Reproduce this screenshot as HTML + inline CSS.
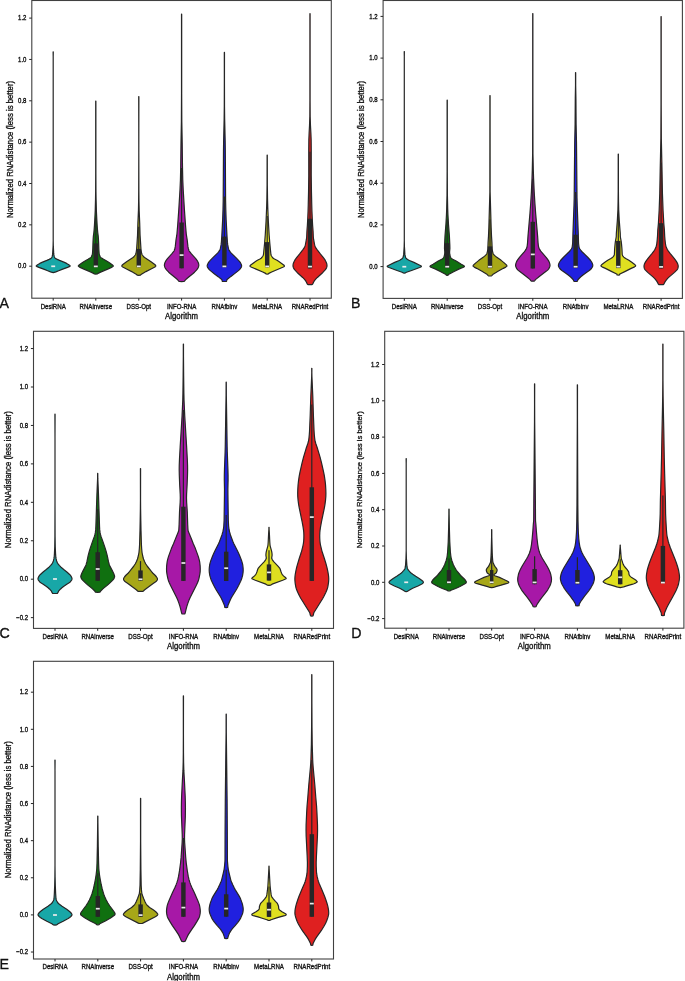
<!DOCTYPE html><html><head><meta charset="utf-8"><style>html,body{margin:0;padding:0;background:#fff;}svg{display:block;}text{font-family:"Liberation Sans",Arial,sans-serif;fill:#111;stroke:#111;stroke-width:0.3px;}</style></head><body>
<svg width="685" height="981" viewBox="0 0 685 981">
<rect width="685" height="981" fill="#fff"/>
<g><path d="M53.28 51.90 L53.20 56.90 L53.20 240.65 L53.32 246.40 L53.66 252.40 L53.86 254.65 L54.13 256.15 L54.49 257.40 L54.93 257.90 L56.31 258.90 L57.27 259.40 L59.53 260.40 L64.43 262.40 L66.59 263.40 L68.36 264.40 L69.45 265.15 L70.05 265.65 L70.20 266.00 L70.13 266.15 L69.81 266.40 L67.52 267.40 L62.03 269.40 L58.70 270.70 L55.84 271.90 L55.00 272.20 L53.20 272.60 L53.20 272.60 L51.40 272.20 L50.56 271.90 L47.70 270.70 L44.37 269.40 L38.88 267.40 L36.59 266.40 L36.27 266.15 L36.20 266.00 L36.35 265.65 L36.95 265.15 L38.04 264.40 L39.81 263.40 L41.97 262.40 L46.87 260.40 L49.13 259.40 L50.09 258.90 L51.47 257.90 L51.91 257.40 L52.27 256.15 L52.54 254.65 L52.74 252.40 L53.08 246.40 L53.20 240.65 L53.20 56.90 L53.12 51.90 Z" fill="#18a7a7" stroke="#262626" stroke-width="1.20" stroke-linejoin="round"/><rect x="51.25" y="265.45" width="3.90" height="1.70" fill="#ececec"/><path d="M95.88 101.10 L95.88 173.60 L95.96 191.35 L96.08 199.35 L96.37 210.60 L96.78 219.10 L97.13 225.10 L97.44 229.35 L97.74 232.60 L98.19 235.85 L98.40 238.60 L98.61 242.35 L98.83 249.10 L99.11 253.35 L99.28 254.35 L99.67 255.60 L100.23 256.85 L100.63 257.35 L101.60 258.10 L103.58 259.35 L107.48 261.60 L109.77 263.10 L112.84 265.35 L113.11 265.60 L113.27 265.85 L113.30 266.00 L113.15 266.35 L112.89 266.60 L112.08 267.10 L107.68 269.10 L101.16 271.85 L98.00 273.40 L97.30 274.00 L95.80 274.10 L95.80 274.10 L94.30 274.00 L93.60 273.40 L90.44 271.85 L83.92 269.10 L79.52 267.10 L78.71 266.60 L78.45 266.35 L78.30 266.00 L78.33 265.85 L78.49 265.60 L78.76 265.35 L81.83 263.10 L84.12 261.60 L88.02 259.35 L90.00 258.10 L90.97 257.35 L91.37 256.85 L91.93 255.60 L92.32 254.35 L92.49 253.35 L92.77 249.10 L92.99 242.35 L93.20 238.60 L93.41 235.85 L93.86 232.60 L94.16 229.35 L94.47 225.10 L94.82 219.10 L95.23 210.60 L95.52 199.35 L95.64 191.35 L95.72 173.60 L95.72 101.10 Z" fill="#107010" stroke="#262626" stroke-width="1.20" stroke-linejoin="round"/><line x1="95.80" y1="217.50" x2="95.80" y2="267.30" stroke="#262626" stroke-width="1.20"/><rect x="93.58" y="243.40" width="4.45" height="23.90" fill="#262626"/><rect x="93.85" y="265.55" width="3.90" height="1.70" fill="#ececec"/><path d="M138.88 96.50 L138.80 152.25 L138.88 190.50 L138.97 200.75 L139.16 210.50 L139.70 223.00 L140.07 235.25 L140.96 249.00 L141.30 251.50 L141.75 253.75 L141.95 254.25 L142.37 255.00 L143.53 256.50 L144.00 257.00 L144.61 257.50 L148.40 259.90 L151.03 261.75 L154.41 264.25 L155.03 264.75 L155.51 265.25 L155.77 265.75 L155.80 266.00 L155.73 266.25 L155.54 266.50 L154.88 267.00 L151.07 269.00 L145.90 271.60 L143.94 272.75 L141.00 274.60 L140.30 275.20 L138.80 275.30 L138.80 275.30 L137.30 275.20 L136.60 274.60 L133.66 272.75 L131.70 271.60 L126.53 269.00 L122.72 267.00 L122.06 266.50 L121.87 266.25 L121.80 266.00 L121.83 265.75 L122.09 265.25 L122.57 264.75 L123.19 264.25 L126.57 261.75 L129.20 259.90 L132.99 257.50 L133.60 257.00 L134.07 256.50 L135.23 255.00 L135.65 254.25 L135.85 253.75 L136.30 251.50 L136.64 249.00 L137.53 235.25 L137.90 223.00 L138.44 210.50 L138.63 200.75 L138.72 190.50 L138.80 152.25 L138.72 96.50 Z" fill="#a7a718" stroke="#262626" stroke-width="1.20" stroke-linejoin="round"/><line x1="138.80" y1="226.70" x2="138.80" y2="267.30" stroke="#262626" stroke-width="1.20"/><rect x="136.58" y="248.90" width="4.45" height="18.40" fill="#262626"/><rect x="136.85" y="265.55" width="3.90" height="1.70" fill="#ececec"/><path d="M181.68 14.20 L181.68 93.20 L181.81 121.45 L182.21 142.95 L182.48 166.45 L182.77 179.95 L183.22 189.95 L184.42 209.70 L185.49 224.95 L186.20 233.20 L186.46 235.45 L187.26 240.45 L187.90 246.40 L188.26 248.20 L188.96 250.45 L189.20 250.95 L189.68 251.70 L191.23 253.70 L195.73 258.70 L197.54 261.20 L198.08 262.20 L198.44 263.20 L198.70 264.20 L198.80 265.20 L198.74 265.95 L198.53 266.70 L198.10 267.70 L197.58 268.70 L197.06 269.45 L196.44 270.20 L194.50 272.20 L193.08 273.45 L187.23 278.20 L186.44 278.95 L184.80 280.70 L184.25 281.20 L183.80 281.50 L181.60 281.70 L181.60 281.70 L179.40 281.50 L178.95 281.20 L178.40 280.70 L176.76 278.95 L175.97 278.20 L170.12 273.45 L168.70 272.20 L166.76 270.20 L166.14 269.45 L165.62 268.70 L165.10 267.70 L164.67 266.70 L164.46 265.95 L164.40 265.20 L164.50 264.20 L164.76 263.20 L165.12 262.20 L165.66 261.20 L167.47 258.70 L171.97 253.70 L173.52 251.70 L174.00 250.95 L174.24 250.45 L174.94 248.20 L175.30 246.40 L175.94 240.45 L176.74 235.45 L177.00 233.20 L177.71 224.95 L178.78 209.70 L179.98 189.95 L180.43 179.95 L180.72 166.45 L180.99 142.95 L181.39 121.45 L181.52 93.20 L181.52 14.20 Z" fill="#a718a7" stroke="#262626" stroke-width="1.20" stroke-linejoin="round"/><line x1="181.60" y1="168.00" x2="181.60" y2="268.30" stroke="#262626" stroke-width="1.20"/><rect x="179.38" y="222.50" width="4.45" height="45.80" fill="#262626"/><rect x="179.65" y="254.25" width="3.90" height="1.70" fill="#ececec"/><path d="M224.48 52.40 L224.45 80.40 L224.51 106.15 L224.66 118.90 L225.17 140.65 L225.31 150.40 L225.60 200.40 L225.80 209.40 L226.14 219.65 L226.95 235.15 L227.40 242.15 L227.74 244.90 L228.42 248.40 L228.75 249.40 L229.39 250.65 L230.20 251.90 L231.02 252.90 L236.64 258.40 L238.76 260.65 L239.84 261.90 L240.54 262.90 L241.18 264.15 L241.51 265.15 L241.60 265.90 L241.49 266.65 L241.03 267.65 L239.96 269.15 L239.01 270.15 L237.82 271.15 L234.93 273.40 L230.61 276.65 L227.10 279.50 L226.79 279.90 L226.68 280.90 L226.59 281.15 L226.40 281.40 L224.40 281.50 L224.40 281.50 L222.40 281.40 L222.21 281.15 L222.12 280.90 L222.01 279.90 L221.70 279.50 L218.19 276.65 L213.87 273.40 L210.98 271.15 L209.79 270.15 L208.84 269.15 L207.77 267.65 L207.31 266.65 L207.20 265.90 L207.29 265.15 L207.62 264.15 L208.26 262.90 L208.96 261.90 L210.04 260.65 L212.16 258.40 L217.78 252.90 L218.60 251.90 L219.41 250.65 L220.05 249.40 L220.38 248.40 L221.06 244.90 L221.40 242.15 L221.85 235.15 L222.66 219.65 L223.00 209.40 L223.20 200.40 L223.49 150.40 L223.63 140.65 L224.14 118.90 L224.29 106.15 L224.35 80.40 L224.32 52.40 Z" fill="#2020df" stroke="#262626" stroke-width="1.20" stroke-linejoin="round"/><line x1="224.40" y1="196.60" x2="224.40" y2="267.30" stroke="#262626" stroke-width="1.20"/><rect x="222.18" y="236.60" width="4.45" height="30.70" fill="#262626"/><rect x="222.45" y="265.55" width="3.90" height="1.70" fill="#ececec"/><path d="M267.28 155.00 L267.34 185.25 L267.53 199.00 L267.78 207.75 L268.33 221.00 L269.17 235.25 L269.78 243.00 L270.91 254.50 L271.11 255.25 L271.62 256.25 L272.34 257.25 L273.26 258.25 L274.47 259.00 L276.98 260.25 L278.52 261.25 L283.69 265.00 L284.19 265.50 L284.34 265.75 L284.40 266.00 L284.33 266.25 L284.10 266.50 L283.76 266.75 L282.78 267.25 L271.63 272.00 L268.80 273.40 L268.66 273.50 L268.40 274.00 L267.20 274.10 L267.20 274.10 L266.00 274.00 L265.74 273.50 L265.60 273.40 L262.77 272.00 L251.62 267.25 L250.64 266.75 L250.30 266.50 L250.07 266.25 L250.00 266.00 L250.06 265.75 L250.21 265.50 L250.71 265.00 L255.88 261.25 L257.42 260.25 L259.93 259.00 L261.14 258.25 L262.06 257.25 L262.78 256.25 L263.29 255.25 L263.49 254.50 L264.62 243.00 L265.23 235.25 L266.07 221.00 L266.62 207.75 L266.87 199.00 L267.06 185.25 L267.12 155.00 Z" fill="#dfdf20" stroke="#262626" stroke-width="1.20" stroke-linejoin="round"/><line x1="267.20" y1="216.00" x2="267.20" y2="267.30" stroke="#262626" stroke-width="1.20"/><rect x="264.97" y="242.10" width="4.45" height="25.20" fill="#262626"/><rect x="265.25" y="265.55" width="3.90" height="1.70" fill="#ececec"/><path d="M310.08 13.70 L310.08 100.20 L310.16 116.20 L310.46 125.20 L310.88 132.95 L311.15 139.70 L311.25 150.45 L311.23 175.45 L311.45 191.70 L311.75 204.70 L311.95 211.45 L312.26 218.70 L312.63 225.45 L313.05 230.70 L313.33 236.95 L313.57 239.20 L314.47 244.20 L314.78 245.45 L315.37 246.95 L316.01 248.20 L316.85 249.45 L319.94 253.45 L322.99 257.20 L324.49 259.20 L325.16 260.20 L325.95 261.70 L326.58 263.20 L326.89 264.45 L327.01 265.70 L326.95 266.45 L326.66 267.45 L326.10 268.70 L325.42 269.70 L322.86 272.45 L317.36 277.45 L315.91 278.95 L314.87 280.20 L313.97 281.45 L313.54 282.20 L312.73 283.95 L312.55 284.20 L312.00 284.60 L310.00 284.70 L310.00 284.70 L308.00 284.60 L307.45 284.20 L307.27 283.95 L306.46 282.20 L306.03 281.45 L305.13 280.20 L304.09 278.95 L302.64 277.45 L297.14 272.45 L294.58 269.70 L293.90 268.70 L293.34 267.45 L293.05 266.45 L292.99 265.70 L293.11 264.45 L293.42 263.20 L294.05 261.70 L294.84 260.20 L295.51 259.20 L297.01 257.20 L300.06 253.45 L303.15 249.45 L303.99 248.20 L304.63 246.95 L305.22 245.45 L305.53 244.20 L306.43 239.20 L306.67 236.95 L306.95 230.70 L307.37 225.45 L307.74 218.70 L308.05 211.45 L308.25 204.70 L308.55 191.70 L308.77 175.45 L308.75 150.45 L308.85 139.70 L309.12 132.95 L309.54 125.20 L309.84 116.20 L309.92 100.20 L309.92 13.70 Z" fill="#df2020" stroke="#262626" stroke-width="1.20" stroke-linejoin="round"/><line x1="310.00" y1="151.70" x2="310.00" y2="268.50" stroke="#262626" stroke-width="1.20"/><rect x="307.77" y="218.70" width="4.45" height="49.80" fill="#262626"/><rect x="308.05" y="265.75" width="3.90" height="1.70" fill="#ececec"/><rect x="31.80" y="0.50" width="299.50" height="297.70" fill="none" stroke="#404040" stroke-width="1.10"/><line x1="29.20" y1="266.20" x2="31.80" y2="266.20" stroke="#262626" stroke-width="1"/><text transform="translate(26.40 268.40) scale(1 1.130)" font-size="6.00" text-anchor="end">0.0</text><line x1="29.20" y1="224.85" x2="31.80" y2="224.85" stroke="#262626" stroke-width="1"/><text transform="translate(26.40 227.05) scale(1 1.130)" font-size="6.00" text-anchor="end">0.2</text><line x1="29.20" y1="183.50" x2="31.80" y2="183.50" stroke="#262626" stroke-width="1"/><text transform="translate(26.40 185.70) scale(1 1.130)" font-size="6.00" text-anchor="end">0.4</text><line x1="29.20" y1="142.15" x2="31.80" y2="142.15" stroke="#262626" stroke-width="1"/><text transform="translate(26.40 144.35) scale(1 1.130)" font-size="6.00" text-anchor="end">0.6</text><line x1="29.20" y1="100.80" x2="31.80" y2="100.80" stroke="#262626" stroke-width="1"/><text transform="translate(26.40 103.00) scale(1 1.130)" font-size="6.00" text-anchor="end">0.8</text><line x1="29.20" y1="59.45" x2="31.80" y2="59.45" stroke="#262626" stroke-width="1"/><text transform="translate(26.40 61.65) scale(1 1.130)" font-size="6.00" text-anchor="end">1.0</text><line x1="29.20" y1="18.10" x2="31.80" y2="18.10" stroke="#262626" stroke-width="1"/><text transform="translate(26.40 20.30) scale(1 1.130)" font-size="6.00" text-anchor="end">1.2</text><line x1="53.20" y1="298.20" x2="53.20" y2="300.60" stroke="#262626" stroke-width="1"/><text transform="translate(53.20 308.50) scale(1 1.130)" font-size="6.10" text-anchor="middle">DesiRNA</text><line x1="95.80" y1="298.20" x2="95.80" y2="300.60" stroke="#262626" stroke-width="1"/><text transform="translate(95.80 308.50) scale(1 1.130)" font-size="6.10" text-anchor="middle">RNAinverse</text><line x1="138.80" y1="298.20" x2="138.80" y2="300.60" stroke="#262626" stroke-width="1"/><text transform="translate(138.80 308.50) scale(1 1.130)" font-size="6.10" text-anchor="middle">DSS-Opt</text><line x1="181.60" y1="298.20" x2="181.60" y2="300.60" stroke="#262626" stroke-width="1"/><text transform="translate(181.60 308.50) scale(1 1.130)" font-size="6.10" text-anchor="middle">INFO-RNA</text><line x1="224.40" y1="298.20" x2="224.40" y2="300.60" stroke="#262626" stroke-width="1"/><text transform="translate(224.40 308.50) scale(1 1.130)" font-size="6.10" text-anchor="middle">RNAfbinv</text><line x1="267.20" y1="298.20" x2="267.20" y2="300.60" stroke="#262626" stroke-width="1"/><text transform="translate(267.20 308.50) scale(1 1.130)" font-size="6.10" text-anchor="middle">MetaLRNA</text><line x1="310.00" y1="298.20" x2="310.00" y2="300.60" stroke="#262626" stroke-width="1"/><text transform="translate(310.00 308.50) scale(1 1.130)" font-size="6.10" text-anchor="middle">RNARedPrint</text><text transform="translate(181.55 318.70) scale(1 1.130)" font-size="7.80" text-anchor="middle">Algorithm</text><text transform="translate(13.00 149.50) scale(1.060 1) rotate(-90)" font-size="7.75" text-anchor="middle">Normalized RNAdistance (less is better)</text><text transform="translate(-0.60 307.80) scale(1 1.07)" font-size="14.20" style="stroke-width:0.3px">A</text></g>
<g><path d="M404.38 51.50 L404.30 56.50 L404.30 240.75 L404.44 246.75 L404.90 254.40 L405.17 256.00 L405.71 257.75 L406.08 258.25 L406.96 259.00 L408.46 260.00 L409.43 260.50 L413.90 262.40 L420.28 265.50 L421.14 266.00 L421.36 266.25 L421.40 266.40 L421.18 266.75 L420.81 267.00 L419.66 267.50 L412.28 270.25 L406.54 272.25 L405.90 272.50 L405.50 272.90 L404.30 273.10 L404.30 273.10 L403.10 272.90 L402.70 272.50 L402.06 272.25 L396.32 270.25 L388.94 267.50 L387.79 267.00 L387.42 266.75 L387.20 266.40 L387.24 266.25 L387.46 266.00 L388.32 265.50 L394.70 262.40 L399.17 260.50 L400.14 260.00 L401.64 259.00 L402.52 258.25 L402.89 257.75 L403.43 256.00 L403.70 254.40 L404.16 246.75 L404.30 240.75 L404.30 56.50 L404.22 51.50 Z" fill="#18a7a7" stroke="#262626" stroke-width="1.20" stroke-linejoin="round"/><rect x="402.35" y="265.85" width="3.90" height="1.70" fill="#ececec"/><path d="M447.28 100.20 L447.28 171.70 L447.40 195.20 L447.71 208.95 L447.95 214.95 L448.48 224.20 L449.38 235.70 L449.82 244.95 L449.90 248.45 L449.60 251.95 L449.66 253.20 L449.88 254.95 L450.21 256.20 L450.79 257.45 L451.20 258.10 L451.52 258.45 L452.67 259.20 L456.14 260.95 L461.30 264.20 L463.56 265.45 L464.21 265.95 L464.37 266.20 L464.40 266.40 L464.24 266.70 L463.50 267.20 L458.80 269.10 L454.14 271.45 L450.83 273.20 L448.40 274.60 L448.29 274.70 L448.20 275.20 L447.20 275.30 L447.20 275.30 L446.20 275.20 L446.11 274.70 L446.00 274.60 L443.57 273.20 L440.26 271.45 L435.60 269.10 L430.90 267.20 L430.16 266.70 L430.00 266.40 L430.03 266.20 L430.19 265.95 L430.84 265.45 L433.10 264.20 L438.26 260.95 L441.73 259.20 L442.88 258.45 L443.20 258.10 L443.61 257.45 L444.19 256.20 L444.52 254.95 L444.74 253.20 L444.80 251.95 L444.50 248.45 L444.58 244.95 L445.02 235.70 L445.92 224.20 L446.45 214.95 L446.69 208.95 L447.00 195.20 L447.12 171.70 L447.12 100.20 Z" fill="#107010" stroke="#262626" stroke-width="1.20" stroke-linejoin="round"/><line x1="447.20" y1="219.50" x2="447.20" y2="268.10" stroke="#262626" stroke-width="1.20"/><rect x="444.97" y="243.10" width="4.45" height="25.00" fill="#262626"/><rect x="445.25" y="265.85" width="3.90" height="1.70" fill="#ececec"/><path d="M490.08 95.60 L490.12 192.10 L491.15 227.60 L491.52 236.35 L491.93 242.60 L492.16 249.10 L492.47 251.10 L493.00 253.20 L493.29 253.85 L493.85 254.60 L494.85 255.60 L496.86 257.35 L501.11 260.35 L503.89 262.60 L506.37 264.85 L506.76 265.35 L506.91 265.85 L506.87 266.10 L506.72 266.35 L506.47 266.60 L505.73 267.10 L503.36 268.35 L498.03 271.35 L492.70 274.60 L492.39 274.85 L491.87 275.60 L491.50 275.90 L490.00 276.00 L490.00 276.00 L488.50 275.90 L488.13 275.60 L487.61 274.85 L487.30 274.60 L481.97 271.35 L476.64 268.35 L474.27 267.10 L473.53 266.60 L473.28 266.35 L473.13 266.10 L473.09 265.85 L473.24 265.35 L473.63 264.85 L476.11 262.60 L478.89 260.35 L483.14 257.35 L485.15 255.60 L486.15 254.60 L486.71 253.85 L487.00 253.20 L487.53 251.10 L487.84 249.10 L488.07 242.60 L488.48 236.35 L488.85 227.60 L489.88 192.10 L489.92 95.60 Z" fill="#a7a718" stroke="#262626" stroke-width="1.20" stroke-linejoin="round"/><line x1="490.00" y1="219.40" x2="490.00" y2="268.10" stroke="#262626" stroke-width="1.20"/><rect x="487.77" y="246.40" width="4.45" height="21.70" fill="#262626"/><rect x="488.05" y="265.85" width="3.90" height="1.70" fill="#ececec"/><path d="M532.88 13.60 L532.88 94.60 L532.97 154.35 L533.31 170.10 L533.58 178.35 L534.18 191.60 L534.90 203.35 L535.62 213.10 L537.63 236.35 L538.06 242.85 L538.34 245.35 L538.68 247.35 L538.95 248.10 L539.32 248.85 L540.78 251.10 L541.58 252.10 L546.12 257.35 L547.63 259.35 L548.47 260.60 L549.01 261.60 L549.59 263.10 L549.90 264.35 L550.00 265.40 L549.88 266.35 L549.40 267.60 L548.50 269.10 L547.62 270.10 L546.43 271.10 L539.30 276.50 L536.08 279.10 L535.26 279.85 L534.79 280.60 L534.30 281.10 L532.80 281.20 L532.80 281.20 L531.30 281.10 L530.81 280.60 L530.34 279.85 L529.52 279.10 L526.30 276.50 L519.17 271.10 L517.98 270.10 L517.10 269.10 L516.20 267.60 L515.72 266.35 L515.60 265.40 L515.70 264.35 L516.01 263.10 L516.59 261.60 L517.13 260.60 L517.97 259.35 L519.48 257.35 L524.02 252.10 L524.82 251.10 L526.28 248.85 L526.65 248.10 L526.92 247.35 L527.26 245.35 L527.54 242.85 L527.97 236.35 L529.98 213.10 L530.70 203.35 L531.42 191.60 L532.02 178.35 L532.29 170.10 L532.63 154.35 L532.72 94.60 L532.72 13.60 Z" fill="#a718a7" stroke="#262626" stroke-width="1.20" stroke-linejoin="round"/><line x1="532.80" y1="178.80" x2="532.80" y2="268.50" stroke="#262626" stroke-width="1.20"/><rect x="530.57" y="221.80" width="4.45" height="46.70" fill="#262626"/><rect x="530.85" y="253.55" width="3.90" height="1.70" fill="#ececec"/><path d="M575.68 72.50 L575.68 85.25 L575.92 98.75 L576.10 124.25 L576.50 142.50 L577.01 198.00 L577.22 205.75 L578.26 233.25 L578.50 242.10 L578.60 243.75 L579.05 247.25 L579.31 248.00 L579.86 249.00 L581.14 250.75 L581.78 251.50 L587.70 257.25 L589.54 259.25 L590.61 260.50 L591.47 261.75 L592.25 263.25 L592.68 264.50 L592.80 265.50 L592.69 266.25 L592.26 267.25 L591.59 268.25 L590.52 269.50 L589.30 270.50 L586.41 272.50 L583.00 275.00 L580.82 276.75 L579.53 278.00 L577.90 279.75 L577.40 281.00 L577.10 281.40 L575.60 281.50 L575.60 281.50 L574.10 281.40 L573.80 281.00 L573.30 279.75 L571.67 278.00 L570.38 276.75 L568.20 275.00 L564.79 272.50 L561.90 270.50 L560.68 269.50 L559.61 268.25 L558.94 267.25 L558.51 266.25 L558.40 265.50 L558.52 264.50 L558.95 263.25 L559.73 261.75 L560.59 260.50 L561.66 259.25 L563.50 257.25 L569.42 251.50 L570.06 250.75 L571.34 249.00 L571.89 248.00 L572.15 247.25 L572.60 243.75 L572.70 242.10 L572.94 233.25 L573.98 205.75 L574.19 198.00 L574.70 142.50 L575.10 124.25 L575.28 98.75 L575.52 85.25 L575.52 72.50 Z" fill="#2020df" stroke="#262626" stroke-width="1.20" stroke-linejoin="round"/><line x1="575.60" y1="192.00" x2="575.60" y2="268.10" stroke="#262626" stroke-width="1.20"/><rect x="573.38" y="234.70" width="4.45" height="33.40" fill="#262626"/><rect x="573.65" y="265.85" width="3.90" height="1.70" fill="#ececec"/><path d="M618.38 154.10 L618.41 191.35 L618.53 202.10 L618.69 209.85 L619.28 220.85 L620.25 233.35 L620.33 236.35 L620.53 237.85 L621.19 241.35 L621.47 243.60 L621.94 248.85 L622.23 254.60 L622.49 255.35 L622.96 256.10 L623.81 257.10 L624.60 257.85 L625.75 258.60 L628.87 260.35 L631.77 262.35 L635.02 264.85 L635.47 265.35 L635.60 265.60 L635.63 265.85 L635.55 266.10 L635.35 266.35 L634.59 266.85 L631.20 268.35 L624.80 271.60 L619.90 274.00 L619.75 274.10 L619.62 274.35 L619.64 274.85 L619.50 275.00 L618.30 275.10 L618.30 275.10 L617.10 275.00 L616.96 274.85 L616.98 274.35 L616.85 274.10 L616.70 274.00 L611.80 271.60 L605.40 268.35 L602.01 266.85 L601.25 266.35 L601.05 266.10 L600.97 265.85 L601.00 265.60 L601.13 265.35 L601.58 264.85 L604.83 262.35 L607.73 260.35 L610.85 258.60 L612.00 257.85 L612.79 257.10 L613.64 256.10 L614.11 255.35 L614.37 254.60 L614.66 248.85 L615.13 243.60 L615.41 241.35 L616.07 237.85 L616.27 236.35 L616.35 233.35 L617.32 220.85 L617.91 209.85 L618.07 202.10 L618.19 191.35 L618.22 154.10 Z" fill="#dfdf20" stroke="#262626" stroke-width="1.20" stroke-linejoin="round"/><line x1="618.30" y1="214.00" x2="618.30" y2="268.10" stroke="#262626" stroke-width="1.20"/><rect x="616.07" y="240.90" width="4.45" height="27.20" fill="#262626"/><rect x="616.35" y="265.85" width="3.90" height="1.70" fill="#ececec"/><path d="M661.18 16.60 L661.18 104.10 L661.32 138.60 L661.99 169.35 L662.43 193.35 L663.07 210.85 L663.82 223.85 L664.40 230.00 L664.68 236.10 L664.99 239.85 L665.44 243.85 L665.79 245.60 L666.11 246.85 L666.50 247.85 L667.20 249.30 L668.17 250.85 L670.06 253.35 L674.18 258.35 L676.36 261.35 L677.19 262.85 L677.84 264.35 L678.11 265.35 L678.20 266.35 L678.10 267.35 L677.80 268.50 L677.52 269.10 L676.98 269.85 L674.52 272.35 L669.23 276.85 L667.66 278.35 L666.41 279.85 L665.30 281.40 L664.89 282.10 L663.93 284.10 L663.60 284.35 L663.10 284.60 L661.10 284.70 L661.10 284.70 L659.10 284.60 L658.60 284.35 L658.27 284.10 L657.31 282.10 L656.90 281.40 L655.79 279.85 L654.54 278.35 L652.97 276.85 L647.68 272.35 L645.22 269.85 L644.68 269.10 L644.40 268.50 L644.10 267.35 L644.00 266.35 L644.09 265.35 L644.36 264.35 L645.01 262.85 L645.84 261.35 L648.02 258.35 L652.14 253.35 L654.03 250.85 L655.00 249.30 L655.70 247.85 L656.09 246.85 L656.41 245.60 L656.76 243.85 L657.21 239.85 L657.52 236.10 L657.80 230.00 L658.38 223.85 L659.13 210.85 L659.77 193.35 L660.21 169.35 L660.88 138.60 L661.02 104.10 L661.02 16.60 Z" fill="#df2020" stroke="#262626" stroke-width="1.20" stroke-linejoin="round"/><line x1="661.10" y1="162.70" x2="661.10" y2="268.50" stroke="#262626" stroke-width="1.20"/><rect x="658.88" y="223.20" width="4.45" height="45.30" fill="#262626"/><rect x="659.15" y="266.05" width="3.90" height="1.70" fill="#ececec"/><rect x="383.10" y="0.50" width="299.30" height="297.90" fill="none" stroke="#404040" stroke-width="1.10"/><line x1="380.50" y1="266.60" x2="383.10" y2="266.60" stroke="#262626" stroke-width="1"/><text transform="translate(377.70 268.80) scale(1 1.130)" font-size="6.00" text-anchor="end">0.0</text><line x1="380.50" y1="224.90" x2="383.10" y2="224.90" stroke="#262626" stroke-width="1"/><text transform="translate(377.70 227.10) scale(1 1.130)" font-size="6.00" text-anchor="end">0.2</text><line x1="380.50" y1="183.20" x2="383.10" y2="183.20" stroke="#262626" stroke-width="1"/><text transform="translate(377.70 185.40) scale(1 1.130)" font-size="6.00" text-anchor="end">0.4</text><line x1="380.50" y1="141.50" x2="383.10" y2="141.50" stroke="#262626" stroke-width="1"/><text transform="translate(377.70 143.70) scale(1 1.130)" font-size="6.00" text-anchor="end">0.6</text><line x1="380.50" y1="99.80" x2="383.10" y2="99.80" stroke="#262626" stroke-width="1"/><text transform="translate(377.70 102.00) scale(1 1.130)" font-size="6.00" text-anchor="end">0.8</text><line x1="380.50" y1="58.10" x2="383.10" y2="58.10" stroke="#262626" stroke-width="1"/><text transform="translate(377.70 60.30) scale(1 1.130)" font-size="6.00" text-anchor="end">1.0</text><line x1="380.50" y1="16.40" x2="383.10" y2="16.40" stroke="#262626" stroke-width="1"/><text transform="translate(377.70 18.60) scale(1 1.130)" font-size="6.00" text-anchor="end">1.2</text><line x1="404.30" y1="298.40" x2="404.30" y2="300.80" stroke="#262626" stroke-width="1"/><text transform="translate(404.30 308.70) scale(1 1.130)" font-size="6.10" text-anchor="middle">DesiRNA</text><line x1="447.20" y1="298.40" x2="447.20" y2="300.80" stroke="#262626" stroke-width="1"/><text transform="translate(447.20 308.70) scale(1 1.130)" font-size="6.10" text-anchor="middle">RNAinverse</text><line x1="490.00" y1="298.40" x2="490.00" y2="300.80" stroke="#262626" stroke-width="1"/><text transform="translate(490.00 308.70) scale(1 1.130)" font-size="6.10" text-anchor="middle">DSS-Opt</text><line x1="532.80" y1="298.40" x2="532.80" y2="300.80" stroke="#262626" stroke-width="1"/><text transform="translate(532.80 308.70) scale(1 1.130)" font-size="6.10" text-anchor="middle">INFO-RNA</text><line x1="575.60" y1="298.40" x2="575.60" y2="300.80" stroke="#262626" stroke-width="1"/><text transform="translate(575.60 308.70) scale(1 1.130)" font-size="6.10" text-anchor="middle">RNAfbinv</text><line x1="618.30" y1="298.40" x2="618.30" y2="300.80" stroke="#262626" stroke-width="1"/><text transform="translate(618.30 308.70) scale(1 1.130)" font-size="6.10" text-anchor="middle">MetaLRNA</text><line x1="661.10" y1="298.40" x2="661.10" y2="300.80" stroke="#262626" stroke-width="1"/><text transform="translate(661.10 308.70) scale(1 1.130)" font-size="6.10" text-anchor="middle">RNARedPrint</text><text transform="translate(532.75 318.90) scale(1 1.130)" font-size="7.80" text-anchor="middle">Algorithm</text><text transform="translate(364.10 149.50) scale(1.060 1) rotate(-90)" font-size="7.75" text-anchor="middle">Normalized RNAdistance (less is better)</text><text transform="translate(351.00 307.80) scale(1 1.07)" font-size="14.20" style="stroke-width:0.3px">B</text></g>
<g><path d="M55.08 414.20 L55.00 437.95 L55.00 501.95 L55.08 535.95 L55.24 546.45 L55.56 553.45 L55.81 557.20 L56.05 558.70 L56.62 560.95 L57.47 562.95 L58.24 564.20 L59.29 565.45 L60.77 566.95 L64.06 569.70 L66.88 571.95 L69.61 574.45 L70.46 575.45 L71.43 576.95 L71.87 577.95 L72.01 578.70 L71.96 579.20 L71.69 579.95 L71.23 580.70 L70.41 581.70 L69.85 582.20 L69.16 582.70 L66.79 584.20 L63.52 586.45 L61.62 587.95 L60.60 588.95 L58.77 590.95 L58.44 591.45 L57.87 592.70 L57.40 593.30 L55.00 593.50 L55.00 593.50 L52.60 593.30 L52.13 592.70 L51.56 591.45 L51.23 590.95 L49.40 588.95 L48.38 587.95 L46.48 586.45 L43.21 584.20 L40.84 582.70 L40.15 582.20 L39.59 581.70 L38.77 580.70 L38.31 579.95 L38.04 579.20 L37.99 578.70 L38.13 577.95 L38.57 576.95 L39.54 575.45 L40.39 574.45 L43.12 571.95 L45.94 569.70 L49.23 566.95 L50.71 565.45 L51.76 564.20 L52.53 562.95 L53.38 560.95 L53.95 558.70 L54.19 557.20 L54.44 553.45 L54.76 546.45 L54.92 535.95 L55.00 501.95 L55.00 437.95 L54.92 414.20 Z" fill="#18a7a7" stroke="#262626" stroke-width="1.20" stroke-linejoin="round"/><rect x="53.05" y="578.15" width="3.90" height="1.70" fill="#ececec"/><path d="M97.78 473.40 L97.80 478.65 L98.49 494.65 L99.52 526.15 L99.68 529.40 L100.07 532.65 L100.45 534.40 L101.11 536.65 L102.50 540.40 L104.82 547.15 L106.00 550.90 L107.26 555.65 L108.49 561.65 L109.31 564.65 L110.04 566.40 L112.80 571.65 L113.50 573.10 L114.33 575.15 L114.53 575.90 L114.61 576.65 L114.53 577.15 L114.26 577.90 L113.74 578.90 L113.41 579.40 L112.53 580.40 L109.44 583.40 L106.88 585.65 L104.03 587.90 L102.86 588.90 L100.70 591.00 L100.41 591.40 L100.16 591.90 L99.90 592.20 L97.70 592.30 L97.70 592.30 L95.50 592.20 L95.24 591.90 L94.99 591.40 L94.70 591.00 L92.54 588.90 L91.37 587.90 L88.52 585.65 L85.96 583.40 L82.87 580.40 L81.99 579.40 L81.66 578.90 L81.14 577.90 L80.87 577.15 L80.79 576.65 L80.87 575.90 L81.07 575.15 L81.90 573.10 L82.60 571.65 L85.36 566.40 L86.09 564.65 L86.91 561.65 L88.14 555.65 L89.40 550.90 L90.58 547.15 L92.90 540.40 L94.29 536.65 L94.95 534.40 L95.33 532.65 L95.72 529.40 L95.88 526.15 L96.91 494.65 L97.60 478.65 L97.62 473.40 Z" fill="#107010" stroke="#262626" stroke-width="1.20" stroke-linejoin="round"/><line x1="97.70" y1="509.30" x2="97.70" y2="580.80" stroke="#262626" stroke-width="1.20"/><rect x="95.48" y="552.20" width="4.45" height="28.60" fill="#262626"/><rect x="95.75" y="568.15" width="3.90" height="1.70" fill="#ececec"/><path d="M140.58 468.50 L140.55 499.25 L140.62 508.75 L140.82 521.00 L141.02 530.75 L141.42 544.75 L141.67 548.75 L142.04 552.50 L142.71 556.00 L143.52 559.00 L144.53 561.50 L145.66 563.75 L147.30 566.25 L149.80 569.30 L152.05 572.25 L152.93 573.25 L155.09 575.25 L156.36 576.75 L157.17 578.00 L157.40 578.60 L157.46 579.00 L157.41 579.50 L157.23 580.00 L156.80 580.70 L156.28 581.25 L155.32 582.00 L153.13 583.50 L148.40 587.10 L144.40 590.00 L143.41 591.00 L143.08 591.25 L143.00 591.30 L140.50 591.40 L140.50 591.40 L138.00 591.30 L137.92 591.25 L137.59 591.00 L136.60 590.00 L132.60 587.10 L127.87 583.50 L125.68 582.00 L124.72 581.25 L124.20 580.70 L123.77 580.00 L123.59 579.50 L123.54 579.00 L123.60 578.60 L123.83 578.00 L124.64 576.75 L125.91 575.25 L128.07 573.25 L128.95 572.25 L131.20 569.30 L133.70 566.25 L135.34 563.75 L136.47 561.50 L137.48 559.00 L138.29 556.00 L138.96 552.50 L139.33 548.75 L139.58 544.75 L139.98 530.75 L140.18 521.00 L140.38 508.75 L140.45 499.25 L140.42 468.50 Z" fill="#a7a718" stroke="#262626" stroke-width="1.20" stroke-linejoin="round"/><line x1="140.50" y1="561.10" x2="140.50" y2="580.70" stroke="#262626" stroke-width="1.20"/><rect x="138.28" y="570.40" width="4.45" height="10.30" fill="#262626"/><rect x="138.55" y="578.45" width="3.90" height="1.70" fill="#ececec"/><path d="M183.48 344.10 L183.49 356.85 L183.65 375.85 L183.88 393.60 L184.04 400.60 L184.73 415.85 L186.64 447.10 L187.33 459.60 L187.56 465.60 L187.60 470.10 L187.49 475.35 L187.13 484.60 L186.60 493.85 L186.50 498.10 L186.64 502.35 L187.27 511.85 L187.69 524.60 L187.93 529.10 L188.09 530.60 L188.45 531.85 L191.46 539.10 L193.30 543.80 L195.42 548.60 L197.80 555.10 L198.48 557.10 L199.30 560.10 L199.70 562.10 L200.15 565.85 L200.26 569.10 L200.18 571.60 L199.88 573.85 L199.04 578.10 L198.59 579.85 L198.11 581.35 L197.50 582.85 L196.22 585.60 L190.16 597.60 L188.84 600.60 L187.90 603.10 L186.86 606.35 L186.24 608.60 L185.23 612.85 L184.90 613.90 L183.40 614.00 L183.40 614.00 L181.90 613.90 L181.57 612.85 L180.56 608.60 L179.94 606.35 L178.90 603.10 L177.96 600.60 L176.64 597.60 L170.58 585.60 L169.30 582.85 L168.69 581.35 L168.21 579.85 L167.76 578.10 L166.92 573.85 L166.62 571.60 L166.54 569.10 L166.65 565.85 L167.10 562.10 L167.50 560.10 L168.32 557.10 L169.00 555.10 L171.38 548.60 L173.50 543.80 L175.34 539.10 L178.35 531.85 L178.71 530.60 L178.87 529.10 L179.11 524.60 L179.53 511.85 L180.16 502.35 L180.30 498.10 L180.20 493.85 L179.67 484.60 L179.31 475.35 L179.20 470.10 L179.24 465.60 L179.47 459.60 L180.16 447.10 L182.07 415.85 L182.76 400.60 L182.92 393.60 L183.15 375.85 L183.31 356.85 L183.32 344.10 Z" fill="#a718a7" stroke="#262626" stroke-width="1.20" stroke-linejoin="round"/><line x1="183.40" y1="410.00" x2="183.40" y2="580.90" stroke="#262626" stroke-width="1.20"/><rect x="181.18" y="506.70" width="4.45" height="74.20" fill="#262626"/><rect x="181.45" y="562.15" width="3.90" height="1.70" fill="#ececec"/><path d="M226.28 382.20 L226.34 395.70 L227.15 446.70 L227.27 451.70 L227.92 469.20 L228.07 474.95 L228.09 479.95 L227.90 489.20 L227.94 494.95 L228.30 520.20 L228.60 525.95 L229.04 529.45 L229.58 531.95 L230.46 534.95 L232.22 539.70 L233.10 541.95 L233.87 543.70 L237.42 550.70 L238.72 553.45 L240.00 556.45 L241.53 560.45 L242.34 563.20 L242.80 565.20 L243.11 567.95 L243.20 570.20 L243.07 572.45 L242.56 575.70 L241.90 577.95 L241.17 579.95 L240.64 581.20 L238.58 585.45 L236.86 588.70 L235.67 590.70 L231.93 596.70 L230.97 598.45 L229.70 601.20 L228.00 605.30 L227.82 605.95 L227.67 606.95 L227.50 607.50 L226.20 607.70 L226.20 607.70 L224.90 607.50 L224.73 606.95 L224.58 605.95 L224.40 605.30 L222.70 601.20 L221.43 598.45 L220.47 596.70 L216.73 590.70 L215.54 588.70 L213.82 585.45 L211.76 581.20 L211.23 579.95 L210.50 577.95 L209.84 575.70 L209.33 572.45 L209.20 570.20 L209.29 567.95 L209.60 565.20 L210.06 563.20 L210.87 560.45 L212.40 556.45 L213.68 553.45 L214.98 550.70 L218.53 543.70 L219.30 541.95 L220.18 539.70 L221.94 534.95 L222.82 531.95 L223.36 529.45 L223.80 525.95 L224.10 520.20 L224.46 494.95 L224.50 489.20 L224.31 479.95 L224.33 474.95 L224.48 469.20 L225.13 451.70 L225.25 446.70 L226.06 395.70 L226.12 382.20 Z" fill="#2020df" stroke="#262626" stroke-width="1.20" stroke-linejoin="round"/><line x1="226.20" y1="515.00" x2="226.20" y2="581.00" stroke="#262626" stroke-width="1.20"/><rect x="223.97" y="551.70" width="4.45" height="29.30" fill="#262626"/><rect x="224.25" y="567.35" width="3.90" height="1.70" fill="#ececec"/><path d="M269.08 527.30 L269.09 529.30 L269.33 532.55 L269.81 542.30 L270.02 545.05 L270.27 546.30 L271.60 551.05 L271.88 552.55 L272.05 554.05 L272.09 555.30 L271.71 557.80 L271.71 558.30 L271.84 558.80 L272.39 559.80 L273.68 561.55 L277.73 565.80 L279.05 567.30 L279.62 568.05 L280.15 569.05 L280.86 571.30 L281.54 573.05 L282.00 574.00 L282.37 574.55 L283.02 575.30 L284.50 576.80 L285.80 577.80 L286.20 578.30 L286.17 578.55 L285.93 578.80 L285.53 579.05 L282.71 580.30 L272.80 583.90 L272.02 584.30 L271.33 584.80 L270.50 585.20 L269.00 585.40 L269.00 585.40 L267.50 585.20 L266.67 584.80 L265.98 584.30 L265.20 583.90 L255.29 580.30 L252.47 579.05 L252.07 578.80 L251.83 578.55 L251.80 578.30 L252.20 577.80 L253.50 576.80 L254.98 575.30 L255.63 574.55 L256.00 574.00 L256.46 573.05 L257.14 571.30 L257.85 569.05 L258.38 568.05 L258.95 567.30 L260.27 565.80 L264.32 561.55 L265.61 559.80 L266.16 558.80 L266.29 558.30 L266.29 557.80 L265.91 555.30 L265.95 554.05 L266.12 552.55 L266.40 551.05 L267.73 546.30 L267.98 545.05 L268.19 542.30 L268.67 532.55 L268.91 529.30 L268.92 527.30 Z" fill="#dfdf20" stroke="#262626" stroke-width="1.20" stroke-linejoin="round"/><line x1="269.00" y1="550.20" x2="269.00" y2="580.60" stroke="#262626" stroke-width="1.20"/><rect x="266.77" y="564.40" width="4.45" height="16.20" fill="#262626"/><rect x="267.05" y="571.55" width="3.90" height="1.70" fill="#ececec"/><path d="M311.88 368.30 L311.85 372.80 L311.92 376.30 L312.78 396.05 L313.42 416.05 L314.05 431.05 L314.29 434.55 L314.58 437.55 L314.95 440.30 L315.33 442.05 L315.94 444.05 L317.58 448.80 L320.13 457.30 L321.59 463.05 L323.62 472.05 L324.40 476.05 L325.12 481.05 L325.54 485.05 L325.81 489.55 L325.91 493.30 L325.84 496.55 L325.57 499.80 L324.99 504.30 L324.32 508.05 L321.45 521.80 L320.51 527.05 L320.04 530.30 L319.82 532.80 L319.72 535.55 L319.76 538.30 L319.91 541.05 L320.15 543.05 L320.50 545.05 L321.82 550.55 L322.47 552.80 L324.29 558.30 L325.82 563.30 L326.55 565.80 L327.12 568.05 L327.86 571.55 L328.34 574.30 L328.64 576.80 L328.74 579.05 L328.67 580.80 L328.50 582.55 L328.16 584.80 L327.70 587.30 L327.04 589.55 L325.90 592.30 L323.95 596.30 L322.71 598.55 L313.97 612.55 L313.67 613.30 L313.31 615.05 L313.00 615.80 L311.80 616.10 L311.80 616.10 L310.60 615.80 L310.29 615.05 L309.93 613.30 L309.63 612.55 L300.89 598.55 L299.65 596.30 L297.70 592.30 L296.56 589.55 L295.90 587.30 L295.44 584.80 L295.10 582.55 L294.93 580.80 L294.86 579.05 L294.96 576.80 L295.26 574.30 L295.74 571.55 L296.48 568.05 L297.05 565.80 L297.78 563.30 L299.31 558.30 L301.13 552.80 L301.78 550.55 L303.10 545.05 L303.45 543.05 L303.69 541.05 L303.84 538.30 L303.88 535.55 L303.78 532.80 L303.56 530.30 L303.09 527.05 L302.15 521.80 L299.28 508.05 L298.61 504.30 L298.03 499.80 L297.76 496.55 L297.69 493.30 L297.79 489.55 L298.06 485.05 L298.48 481.05 L299.20 476.05 L299.98 472.05 L302.01 463.05 L303.47 457.30 L306.02 448.80 L307.66 444.05 L308.27 442.05 L308.65 440.30 L309.02 437.55 L309.31 434.55 L309.55 431.05 L310.18 416.05 L310.82 396.05 L311.68 376.30 L311.75 372.80 L311.72 368.30 Z" fill="#df2020" stroke="#262626" stroke-width="1.20" stroke-linejoin="round"/><line x1="311.80" y1="404.60" x2="311.80" y2="580.90" stroke="#262626" stroke-width="1.20"/><rect x="309.57" y="487.30" width="4.45" height="93.60" fill="#262626"/><rect x="309.85" y="516.25" width="3.90" height="1.70" fill="#ececec"/><rect x="33.50" y="331.30" width="300.00" height="297.10" fill="none" stroke="#404040" stroke-width="1.10"/><line x1="30.90" y1="617.64" x2="33.50" y2="617.64" stroke="#262626" stroke-width="1"/><text transform="translate(28.10 619.84) scale(1 1.130)" font-size="6.00" text-anchor="end">−0.2</text><line x1="30.90" y1="579.20" x2="33.50" y2="579.20" stroke="#262626" stroke-width="1"/><text transform="translate(28.10 581.40) scale(1 1.130)" font-size="6.00" text-anchor="end">0.0</text><line x1="30.90" y1="540.76" x2="33.50" y2="540.76" stroke="#262626" stroke-width="1"/><text transform="translate(28.10 542.96) scale(1 1.130)" font-size="6.00" text-anchor="end">0.2</text><line x1="30.90" y1="502.32" x2="33.50" y2="502.32" stroke="#262626" stroke-width="1"/><text transform="translate(28.10 504.52) scale(1 1.130)" font-size="6.00" text-anchor="end">0.4</text><line x1="30.90" y1="463.88" x2="33.50" y2="463.88" stroke="#262626" stroke-width="1"/><text transform="translate(28.10 466.08) scale(1 1.130)" font-size="6.00" text-anchor="end">0.6</text><line x1="30.90" y1="425.44" x2="33.50" y2="425.44" stroke="#262626" stroke-width="1"/><text transform="translate(28.10 427.64) scale(1 1.130)" font-size="6.00" text-anchor="end">0.8</text><line x1="30.90" y1="387.00" x2="33.50" y2="387.00" stroke="#262626" stroke-width="1"/><text transform="translate(28.10 389.20) scale(1 1.130)" font-size="6.00" text-anchor="end">1.0</text><line x1="30.90" y1="348.56" x2="33.50" y2="348.56" stroke="#262626" stroke-width="1"/><text transform="translate(28.10 350.76) scale(1 1.130)" font-size="6.00" text-anchor="end">1.2</text><line x1="55.00" y1="628.40" x2="55.00" y2="630.80" stroke="#262626" stroke-width="1"/><text transform="translate(55.00 638.70) scale(1 1.130)" font-size="6.10" text-anchor="middle">DesiRNA</text><line x1="97.70" y1="628.40" x2="97.70" y2="630.80" stroke="#262626" stroke-width="1"/><text transform="translate(97.70 638.70) scale(1 1.130)" font-size="6.10" text-anchor="middle">RNAinverse</text><line x1="140.50" y1="628.40" x2="140.50" y2="630.80" stroke="#262626" stroke-width="1"/><text transform="translate(140.50 638.70) scale(1 1.130)" font-size="6.10" text-anchor="middle">DSS-Opt</text><line x1="183.40" y1="628.40" x2="183.40" y2="630.80" stroke="#262626" stroke-width="1"/><text transform="translate(183.40 638.70) scale(1 1.130)" font-size="6.10" text-anchor="middle">INFO-RNA</text><line x1="226.20" y1="628.40" x2="226.20" y2="630.80" stroke="#262626" stroke-width="1"/><text transform="translate(226.20 638.70) scale(1 1.130)" font-size="6.10" text-anchor="middle">RNAfbinv</text><line x1="269.00" y1="628.40" x2="269.00" y2="630.80" stroke="#262626" stroke-width="1"/><text transform="translate(269.00 638.70) scale(1 1.130)" font-size="6.10" text-anchor="middle">MetaLRNA</text><line x1="311.80" y1="628.40" x2="311.80" y2="630.80" stroke="#262626" stroke-width="1"/><text transform="translate(311.80 638.70) scale(1 1.130)" font-size="6.10" text-anchor="middle">RNARedPrint</text><text transform="translate(183.50 648.90) scale(1 1.130)" font-size="7.80" text-anchor="middle">Algorithm</text><text transform="translate(11.00 479.60) scale(1.060 1) rotate(-90)" font-size="7.75" text-anchor="middle">Normalized RNAdistance (less is better)</text><text transform="translate(-0.60 638.00) scale(1 1.07)" font-size="14.20" style="stroke-width:0.3px">C</text></g>
<g><path d="M406.28 458.70 L406.20 463.95 L406.20 550.70 L406.41 558.20 L406.80 564.50 L407.01 566.45 L407.36 568.45 L407.68 569.20 L408.58 570.45 L410.20 572.20 L411.38 573.20 L412.77 574.20 L415.69 576.20 L419.24 578.45 L421.66 580.20 L422.57 580.95 L423.03 581.45 L423.32 581.95 L423.40 582.30 L423.30 582.70 L422.88 583.20 L422.22 583.70 L421.37 584.20 L417.99 585.95 L413.81 587.70 L412.20 588.45 L409.13 590.20 L407.93 590.95 L407.40 591.40 L406.20 591.60 L406.20 591.60 L405.00 591.40 L404.47 590.95 L403.27 590.20 L400.20 588.45 L398.59 587.70 L394.41 585.95 L391.03 584.20 L390.18 583.70 L389.52 583.20 L389.10 582.70 L389.00 582.30 L389.08 581.95 L389.37 581.45 L389.83 580.95 L390.74 580.20 L393.16 578.45 L396.71 576.20 L399.63 574.20 L401.02 573.20 L402.20 572.20 L403.82 570.45 L404.72 569.20 L405.04 568.45 L405.39 566.45 L405.60 564.50 L405.99 558.20 L406.20 550.70 L406.20 463.95 L406.12 458.70 Z" fill="#18a7a7" stroke="#262626" stroke-width="1.20" stroke-linejoin="round"/><rect x="404.25" y="581.45" width="3.90" height="1.70" fill="#ececec"/><path d="M449.08 509.00 L449.11 514.50 L449.33 527.00 L449.78 542.00 L450.35 551.75 L450.80 555.75 L451.25 558.50 L451.98 561.00 L453.27 564.50 L454.51 567.00 L456.12 569.75 L457.73 572.00 L460.27 575.00 L461.42 576.25 L464.08 578.75 L465.41 580.25 L466.07 581.25 L466.26 581.75 L466.30 582.25 L466.11 582.75 L465.90 583.00 L465.30 583.50 L464.07 584.25 L459.98 586.50 L455.67 588.50 L451.00 590.30 L450.20 590.80 L449.00 591.00 L449.00 591.00 L447.80 590.80 L447.00 590.30 L442.33 588.50 L438.02 586.50 L433.93 584.25 L432.70 583.50 L432.10 583.00 L431.89 582.75 L431.70 582.25 L431.74 581.75 L431.93 581.25 L432.59 580.25 L433.92 578.75 L436.58 576.25 L437.73 575.00 L440.27 572.00 L441.88 569.75 L443.49 567.00 L444.73 564.50 L446.02 561.00 L446.75 558.50 L447.20 555.75 L447.65 551.75 L448.22 542.00 L448.67 527.00 L448.89 514.50 L448.92 509.00 Z" fill="#107010" stroke="#262626" stroke-width="1.20" stroke-linejoin="round"/><line x1="449.00" y1="558.40" x2="449.00" y2="583.50" stroke="#262626" stroke-width="1.20"/><rect x="446.77" y="570.00" width="4.45" height="13.50" fill="#262626"/><rect x="447.05" y="581.45" width="3.90" height="1.70" fill="#ececec"/><path d="M491.78 529.70 L491.81 537.20 L492.20 552.45 L492.42 556.95 L492.75 561.20 L492.90 561.95 L493.23 562.95 L494.57 565.95 L495.07 566.70 L496.64 568.70 L497.00 569.40 L497.11 569.95 L497.09 570.45 L496.98 570.95 L496.29 572.70 L495.75 573.20 L494.35 574.20 L493.93 574.70 L493.90 575.00 L494.01 575.20 L494.32 575.45 L494.79 575.70 L499.40 577.40 L503.44 579.20 L507.12 580.95 L508.37 581.70 L508.63 581.95 L508.80 582.30 L508.78 582.45 L508.57 582.70 L508.19 582.95 L507.64 583.20 L506.21 583.70 L501.11 585.20 L495.70 586.60 L493.38 587.45 L491.70 587.70 L491.70 587.70 L490.02 587.45 L487.70 586.60 L482.29 585.20 L477.19 583.70 L475.76 583.20 L475.21 582.95 L474.83 582.70 L474.62 582.45 L474.60 582.30 L474.77 581.95 L475.03 581.70 L476.28 580.95 L479.96 579.20 L484.00 577.40 L488.61 575.70 L489.08 575.45 L489.39 575.20 L489.50 575.00 L489.47 574.70 L489.05 574.20 L487.65 573.20 L487.11 572.70 L486.42 570.95 L486.31 570.45 L486.29 569.95 L486.40 569.40 L486.76 568.70 L488.33 566.70 L488.83 565.95 L490.17 562.95 L490.50 561.95 L490.65 561.20 L490.98 556.95 L491.20 552.45 L491.59 537.20 L491.62 529.70 Z" fill="#a7a718" stroke="#262626" stroke-width="1.20" stroke-linejoin="round"/><line x1="491.70" y1="556.00" x2="491.70" y2="583.50" stroke="#262626" stroke-width="1.20"/><rect x="490.00" y="570.00" width="3.40" height="13.50" fill="#262626"/><rect x="489.75" y="581.45" width="3.90" height="1.70" fill="#ececec"/><path d="M534.68 383.80 L534.64 404.55 L534.69 421.30 L535.40 503.05 L535.49 518.80 L535.55 521.05 L535.90 524.55 L536.31 530.55 L537.05 538.80 L537.65 544.05 L538.36 548.30 L539.23 551.55 L539.64 552.80 L540.14 554.05 L541.58 557.05 L542.58 558.80 L546.70 565.55 L548.23 568.30 L549.21 570.30 L550.24 572.80 L550.79 574.55 L551.33 577.30 L551.46 578.55 L551.50 579.55 L551.44 580.55 L551.24 581.80 L550.40 584.80 L549.59 586.55 L548.00 589.30 L546.83 591.05 L545.10 593.40 L541.74 597.55 L539.39 600.80 L537.92 603.05 L536.60 605.30 L536.10 606.60 L534.60 606.80 L534.60 606.80 L533.10 606.60 L532.60 605.30 L531.28 603.05 L529.81 600.80 L527.46 597.55 L524.10 593.40 L522.37 591.05 L521.20 589.30 L519.61 586.55 L518.80 584.80 L517.96 581.80 L517.76 580.55 L517.70 579.55 L517.74 578.55 L517.87 577.30 L518.41 574.55 L518.96 572.80 L519.99 570.30 L520.97 568.30 L522.50 565.55 L526.62 558.80 L527.62 557.05 L529.06 554.05 L529.56 552.80 L529.97 551.55 L530.84 548.30 L531.55 544.05 L532.15 538.80 L532.89 530.55 L533.30 524.55 L533.65 521.05 L533.71 518.80 L533.80 503.05 L534.51 421.30 L534.56 404.55 L534.52 383.80 Z" fill="#a718a7" stroke="#262626" stroke-width="1.20" stroke-linejoin="round"/><line x1="534.60" y1="556.20" x2="534.60" y2="584.20" stroke="#262626" stroke-width="1.20"/><rect x="532.38" y="569.10" width="4.45" height="15.10" fill="#262626"/><rect x="532.65" y="581.55" width="3.90" height="1.70" fill="#ececec"/><path d="M577.48 384.80 L577.48 418.55 L577.83 505.05 L578.01 521.05 L578.17 528.05 L578.34 532.30 L578.76 538.55 L579.14 542.30 L579.77 546.05 L580.35 548.30 L581.28 551.05 L582.16 553.05 L583.45 555.55 L590.29 566.80 L591.14 568.30 L592.42 570.80 L593.18 572.55 L593.88 574.80 L594.27 576.55 L594.40 578.05 L594.35 579.05 L594.19 580.05 L593.47 582.80 L592.70 584.55 L591.12 587.30 L590.31 588.55 L589.07 590.30 L587.56 592.30 L584.54 596.05 L581.72 600.05 L580.62 601.80 L579.33 604.05 L579.21 604.55 L579.14 605.30 L579.00 605.70 L577.40 605.90 L577.40 605.90 L575.80 605.70 L575.66 605.30 L575.59 604.55 L575.47 604.05 L574.18 601.80 L573.08 600.05 L570.26 596.05 L567.24 592.30 L565.73 590.30 L564.49 588.55 L563.68 587.30 L562.10 584.55 L561.33 582.80 L560.61 580.05 L560.45 579.05 L560.40 578.05 L560.53 576.55 L560.92 574.80 L561.62 572.55 L562.38 570.80 L563.66 568.30 L564.51 566.80 L571.35 555.55 L572.64 553.05 L573.52 551.05 L574.45 548.30 L575.03 546.05 L575.66 542.30 L576.04 538.55 L576.46 532.30 L576.63 528.05 L576.79 521.05 L576.97 505.05 L577.32 418.55 L577.32 384.80 Z" fill="#2020df" stroke="#262626" stroke-width="1.20" stroke-linejoin="round"/><line x1="577.40" y1="557.20" x2="577.40" y2="584.20" stroke="#262626" stroke-width="1.20"/><rect x="575.17" y="570.00" width="4.45" height="14.20" fill="#262626"/><rect x="575.45" y="581.85" width="3.90" height="1.70" fill="#ececec"/><path d="M620.28 545.10 L620.30 546.85 L621.21 558.10 L621.39 558.85 L622.00 560.60 L622.67 562.85 L623.24 564.35 L623.94 565.60 L624.90 567.00 L626.99 569.35 L628.34 571.35 L628.70 572.10 L628.84 572.60 L628.96 574.10 L629.07 574.60 L629.29 575.10 L629.62 575.60 L630.54 576.60 L631.67 577.60 L634.92 579.60 L636.28 580.60 L637.04 581.35 L637.17 581.60 L637.20 581.85 L637.08 582.10 L636.80 582.35 L635.92 582.85 L633.90 583.70 L632.78 584.10 L627.50 585.60 L623.64 586.85 L622.30 587.20 L620.20 587.60 L620.20 587.60 L618.10 587.20 L616.76 586.85 L612.90 585.60 L607.62 584.10 L606.50 583.70 L604.48 582.85 L603.60 582.35 L603.32 582.10 L603.20 581.85 L603.23 581.60 L603.36 581.35 L604.12 580.60 L605.48 579.60 L608.73 577.60 L609.86 576.60 L610.78 575.60 L611.11 575.10 L611.33 574.60 L611.44 574.10 L611.56 572.60 L611.70 572.10 L612.06 571.35 L613.41 569.35 L615.50 567.00 L616.46 565.60 L617.16 564.35 L617.73 562.85 L618.40 560.60 L619.01 558.85 L619.19 558.10 L620.10 546.85 L620.12 545.10 Z" fill="#dfdf20" stroke="#262626" stroke-width="1.20" stroke-linejoin="round"/><line x1="620.20" y1="559.30" x2="620.20" y2="584.30" stroke="#262626" stroke-width="1.20"/><rect x="617.98" y="570.20" width="4.45" height="14.10" fill="#262626"/><rect x="618.25" y="576.45" width="3.90" height="1.70" fill="#ececec"/><path d="M662.98 344.00 L662.99 380.75 L663.11 396.00 L663.27 406.25 L663.80 431.25 L664.26 457.75 L664.65 473.75 L665.41 500.25 L665.60 513.75 L665.82 519.25 L666.40 529.50 L666.77 534.00 L666.99 535.75 L667.43 538.00 L668.28 541.50 L669.04 544.00 L670.26 547.50 L675.01 559.25 L676.40 563.00 L677.46 566.25 L678.33 569.25 L678.81 571.50 L679.33 574.75 L679.50 577.25 L679.45 578.50 L679.28 580.00 L678.52 584.00 L677.82 586.25 L676.52 589.50 L675.83 591.00 L674.79 593.00 L672.77 596.75 L668.15 605.00 L666.61 608.00 L664.61 612.75 L664.47 613.50 L664.38 614.75 L664.20 615.50 L662.90 615.70 L662.90 615.70 L661.60 615.50 L661.42 614.75 L661.33 613.50 L661.19 612.75 L659.19 608.00 L657.65 605.00 L653.03 596.75 L651.01 593.00 L649.97 591.00 L649.28 589.50 L647.98 586.25 L647.28 584.00 L646.52 580.00 L646.35 578.50 L646.30 577.25 L646.47 574.75 L646.99 571.50 L647.47 569.25 L648.34 566.25 L649.40 563.00 L650.79 559.25 L655.54 547.50 L656.76 544.00 L657.52 541.50 L658.37 538.00 L658.81 535.75 L659.03 534.00 L659.40 529.50 L659.98 519.25 L660.20 513.75 L660.39 500.25 L661.15 473.75 L661.54 457.75 L662.00 431.25 L662.53 406.25 L662.69 396.00 L662.81 380.75 L662.82 344.00 Z" fill="#df2020" stroke="#262626" stroke-width="1.20" stroke-linejoin="round"/><line x1="662.90" y1="495.40" x2="662.90" y2="583.20" stroke="#262626" stroke-width="1.20"/><rect x="660.67" y="545.90" width="4.45" height="37.30" fill="#262626"/><rect x="660.95" y="581.75" width="3.90" height="1.70" fill="#ececec"/><rect x="384.70" y="331.30" width="299.20" height="296.90" fill="none" stroke="#404040" stroke-width="1.10"/><line x1="382.10" y1="618.60" x2="384.70" y2="618.60" stroke="#262626" stroke-width="1"/><text transform="translate(379.30 620.80) scale(1 1.130)" font-size="6.00" text-anchor="end">−0.2</text><line x1="382.10" y1="582.30" x2="384.70" y2="582.30" stroke="#262626" stroke-width="1"/><text transform="translate(379.30 584.50) scale(1 1.130)" font-size="6.00" text-anchor="end">0.0</text><line x1="382.10" y1="546.00" x2="384.70" y2="546.00" stroke="#262626" stroke-width="1"/><text transform="translate(379.30 548.20) scale(1 1.130)" font-size="6.00" text-anchor="end">0.2</text><line x1="382.10" y1="509.70" x2="384.70" y2="509.70" stroke="#262626" stroke-width="1"/><text transform="translate(379.30 511.90) scale(1 1.130)" font-size="6.00" text-anchor="end">0.4</text><line x1="382.10" y1="473.40" x2="384.70" y2="473.40" stroke="#262626" stroke-width="1"/><text transform="translate(379.30 475.60) scale(1 1.130)" font-size="6.00" text-anchor="end">0.6</text><line x1="382.10" y1="437.10" x2="384.70" y2="437.10" stroke="#262626" stroke-width="1"/><text transform="translate(379.30 439.30) scale(1 1.130)" font-size="6.00" text-anchor="end">0.8</text><line x1="382.10" y1="400.80" x2="384.70" y2="400.80" stroke="#262626" stroke-width="1"/><text transform="translate(379.30 403.00) scale(1 1.130)" font-size="6.00" text-anchor="end">1.0</text><line x1="382.10" y1="364.50" x2="384.70" y2="364.50" stroke="#262626" stroke-width="1"/><text transform="translate(379.30 366.70) scale(1 1.130)" font-size="6.00" text-anchor="end">1.2</text><line x1="406.20" y1="628.20" x2="406.20" y2="630.60" stroke="#262626" stroke-width="1"/><text transform="translate(406.20 638.50) scale(1 1.130)" font-size="6.10" text-anchor="middle">DesiRNA</text><line x1="449.00" y1="628.20" x2="449.00" y2="630.60" stroke="#262626" stroke-width="1"/><text transform="translate(449.00 638.50) scale(1 1.130)" font-size="6.10" text-anchor="middle">RNAinverse</text><line x1="491.70" y1="628.20" x2="491.70" y2="630.60" stroke="#262626" stroke-width="1"/><text transform="translate(491.70 638.50) scale(1 1.130)" font-size="6.10" text-anchor="middle">DSS-Opt</text><line x1="534.60" y1="628.20" x2="534.60" y2="630.60" stroke="#262626" stroke-width="1"/><text transform="translate(534.60 638.50) scale(1 1.130)" font-size="6.10" text-anchor="middle">INFO-RNA</text><line x1="577.40" y1="628.20" x2="577.40" y2="630.60" stroke="#262626" stroke-width="1"/><text transform="translate(577.40 638.50) scale(1 1.130)" font-size="6.10" text-anchor="middle">RNAfbinv</text><line x1="620.20" y1="628.20" x2="620.20" y2="630.60" stroke="#262626" stroke-width="1"/><text transform="translate(620.20 638.50) scale(1 1.130)" font-size="6.10" text-anchor="middle">MetaLRNA</text><line x1="662.90" y1="628.20" x2="662.90" y2="630.60" stroke="#262626" stroke-width="1"/><text transform="translate(662.90 638.50) scale(1 1.130)" font-size="6.10" text-anchor="middle">RNARedPrint</text><text transform="translate(534.30 648.70) scale(1 1.130)" font-size="7.80" text-anchor="middle">Algorithm</text><text transform="translate(361.70 479.70) scale(0.954 1) rotate(-90)" font-size="7.75" text-anchor="middle">Normalized RNAdistance (less is better)</text><text transform="translate(351.20 638.00) scale(1 1.07)" font-size="14.20" style="stroke-width:0.3px">D</text></g>
<g><path d="M55.08 760.00 L55.00 770.75 L55.00 865.25 L55.10 876.75 L55.31 885.50 L55.66 893.75 L56.00 898.75 L56.22 899.75 L56.63 900.75 L57.63 902.50 L58.27 903.25 L59.39 904.25 L62.04 906.25 L66.68 909.25 L69.28 911.25 L70.39 912.25 L71.48 913.50 L71.92 914.25 L72.00 914.75 L71.96 915.00 L71.72 915.50 L70.83 916.50 L69.70 917.50 L68.19 918.50 L63.17 921.25 L58.10 923.80 L57.16 924.50 L56.50 924.90 L55.00 925.10 L55.00 925.10 L53.50 924.90 L52.84 924.50 L51.90 923.80 L46.83 921.25 L41.81 918.50 L40.30 917.50 L39.17 916.50 L38.28 915.50 L38.04 915.00 L38.00 914.75 L38.08 914.25 L38.52 913.50 L39.61 912.25 L40.72 911.25 L43.32 909.25 L47.96 906.25 L50.61 904.25 L51.73 903.25 L52.37 902.50 L53.37 900.75 L53.78 899.75 L54.00 898.75 L54.34 893.75 L54.69 885.50 L54.90 876.75 L55.00 865.25 L55.00 770.75 L54.92 760.00 Z" fill="#18a7a7" stroke="#262626" stroke-width="1.20" stroke-linejoin="round"/><rect x="53.05" y="914.15" width="3.90" height="1.70" fill="#ececec"/><path d="M97.88 816.00 L97.90 822.25 L98.21 846.25 L98.60 863.25 L98.81 868.25 L98.99 870.50 L99.48 874.75 L100.08 878.50 L101.15 884.25 L102.22 889.00 L103.44 893.25 L104.06 895.00 L104.86 897.00 L106.22 900.00 L107.89 903.00 L109.64 905.75 L112.10 909.00 L114.26 912.00 L114.82 913.00 L115.10 914.00 L115.00 914.50 L114.85 914.75 L114.38 915.25 L111.66 917.25 L110.16 918.25 L105.35 921.00 L99.80 923.80 L99.56 924.00 L99.24 924.50 L99.10 924.60 L97.80 924.80 L97.80 924.80 L96.50 924.60 L96.36 924.50 L96.04 924.00 L95.80 923.80 L90.25 921.00 L85.44 918.25 L83.94 917.25 L81.22 915.25 L80.75 914.75 L80.60 914.50 L80.50 914.00 L80.78 913.00 L81.34 912.00 L83.50 909.00 L85.96 905.75 L87.71 903.00 L89.38 900.00 L90.74 897.00 L91.54 895.00 L92.16 893.25 L93.38 889.00 L94.45 884.25 L95.52 878.50 L96.12 874.75 L96.61 870.50 L96.79 868.25 L97.00 863.25 L97.39 846.25 L97.70 822.25 L97.72 816.00 Z" fill="#107010" stroke="#262626" stroke-width="1.20" stroke-linejoin="round"/><line x1="97.80" y1="873.30" x2="97.80" y2="916.80" stroke="#262626" stroke-width="1.20"/><rect x="95.58" y="896.00" width="4.45" height="20.80" fill="#262626"/><rect x="95.85" y="907.85" width="3.90" height="1.70" fill="#ececec"/><path d="M140.68 798.30 L140.68 841.05 L140.89 869.30 L141.17 885.05 L141.47 890.05 L141.81 893.05 L141.95 893.80 L142.23 894.80 L143.61 898.55 L145.13 902.05 L145.77 903.30 L146.39 904.30 L147.70 905.80 L149.34 907.30 L150.41 908.05 L153.16 909.80 L154.83 911.05 L156.04 912.05 L156.70 912.70 L157.43 913.55 L157.71 914.05 L157.80 914.40 L157.71 914.80 L157.56 915.05 L157.07 915.55 L156.13 916.30 L154.89 917.05 L142.90 923.10 L142.10 923.40 L140.60 923.50 L140.60 923.50 L139.10 923.40 L138.30 923.10 L126.31 917.05 L125.07 916.30 L124.13 915.55 L123.64 915.05 L123.49 914.80 L123.40 914.40 L123.49 914.05 L123.77 913.55 L124.50 912.70 L125.16 912.05 L126.37 911.05 L128.04 909.80 L130.79 908.05 L131.86 907.30 L133.50 905.80 L134.81 904.30 L135.43 903.30 L136.07 902.05 L137.59 898.55 L138.97 894.80 L139.25 893.80 L139.39 893.05 L139.73 890.05 L140.03 885.05 L140.31 869.30 L140.52 841.05 L140.52 798.30 Z" fill="#a7a718" stroke="#262626" stroke-width="1.20" stroke-linejoin="round"/><line x1="140.60" y1="893.30" x2="140.60" y2="916.80" stroke="#262626" stroke-width="1.20"/><rect x="138.38" y="904.40" width="4.45" height="12.40" fill="#262626"/><rect x="138.65" y="914.25" width="3.90" height="1.70" fill="#ececec"/><path d="M183.48 695.90 L183.44 734.40 L183.49 752.40 L183.60 762.15 L183.83 770.40 L184.40 780.40 L185.17 795.90 L185.35 801.65 L185.44 807.40 L185.36 815.90 L184.58 834.15 L184.51 838.90 L184.68 842.90 L185.71 857.40 L186.23 862.90 L187.28 870.65 L188.26 876.40 L189.01 879.65 L189.83 882.40 L190.78 884.90 L191.87 887.40 L194.26 892.40 L197.74 900.40 L198.89 903.40 L199.52 905.40 L199.87 907.15 L200.19 909.40 L200.30 911.40 L200.12 913.65 L199.57 916.40 L199.29 917.15 L198.82 918.15 L197.01 921.40 L194.40 925.65 L191.27 930.15 L188.46 934.40 L187.50 936.15 L185.40 940.65 L184.97 941.40 L184.90 941.50 L183.40 941.60 L183.40 941.60 L181.90 941.50 L181.83 941.40 L181.40 940.65 L179.30 936.15 L178.34 934.40 L175.53 930.15 L172.40 925.65 L169.79 921.40 L167.98 918.15 L167.51 917.15 L167.23 916.40 L166.68 913.65 L166.50 911.40 L166.61 909.40 L166.93 907.15 L167.28 905.40 L167.91 903.40 L169.06 900.40 L172.54 892.40 L174.93 887.40 L176.02 884.90 L176.97 882.40 L177.79 879.65 L178.54 876.40 L179.52 870.65 L180.57 862.90 L181.09 857.40 L182.12 842.90 L182.29 838.90 L182.22 834.15 L181.44 815.90 L181.36 807.40 L181.45 801.65 L181.63 795.90 L182.40 780.40 L182.97 770.40 L183.20 762.15 L183.31 752.40 L183.36 734.40 L183.32 695.90 Z" fill="#a718a7" stroke="#262626" stroke-width="1.20" stroke-linejoin="round"/><line x1="183.40" y1="838.00" x2="183.40" y2="916.80" stroke="#262626" stroke-width="1.20"/><rect x="181.18" y="882.40" width="4.45" height="34.40" fill="#262626"/><rect x="181.45" y="906.75" width="3.90" height="1.70" fill="#ececec"/><path d="M226.28 714.10 L226.30 732.10 L227.10 799.60 L227.32 834.35 L227.40 860.00 L227.49 861.85 L227.95 866.85 L228.28 869.35 L229.17 873.35 L230.61 879.35 L231.04 880.85 L231.63 882.35 L232.87 885.10 L234.33 888.10 L235.32 889.85 L239.04 895.85 L239.83 897.35 L240.63 899.10 L241.86 902.35 L242.47 904.35 L243.01 907.10 L243.16 908.35 L243.21 909.35 L243.16 910.35 L243.00 911.60 L242.82 912.60 L242.55 913.60 L241.55 916.10 L240.87 917.60 L240.20 918.85 L238.94 920.85 L237.86 922.35 L235.14 925.60 L232.43 928.60 L231.66 929.60 L230.63 931.10 L229.74 932.60 L229.05 934.10 L228.05 936.85 L227.70 938.40 L226.20 938.60 L226.20 938.60 L224.70 938.40 L224.35 936.85 L223.35 934.10 L222.66 932.60 L221.77 931.10 L220.74 929.60 L219.97 928.60 L217.26 925.60 L214.54 922.35 L213.46 920.85 L212.20 918.85 L211.53 917.60 L210.85 916.10 L209.85 913.60 L209.58 912.60 L209.40 911.60 L209.24 910.35 L209.19 909.35 L209.24 908.35 L209.39 907.10 L209.93 904.35 L210.54 902.35 L211.77 899.10 L212.57 897.35 L213.36 895.85 L217.08 889.85 L218.07 888.10 L219.53 885.10 L220.77 882.35 L221.36 880.85 L221.79 879.35 L223.23 873.35 L224.12 869.35 L224.45 866.85 L224.91 861.85 L225.00 860.00 L225.08 834.35 L225.30 799.60 L226.10 732.10 L226.12 714.10 Z" fill="#2020df" stroke="#262626" stroke-width="1.20" stroke-linejoin="round"/><line x1="226.20" y1="869.80" x2="226.20" y2="916.70" stroke="#262626" stroke-width="1.20"/><rect x="223.97" y="894.30" width="4.45" height="22.40" fill="#262626"/><rect x="224.25" y="907.75" width="3.90" height="1.70" fill="#ececec"/><path d="M269.08 866.20 L269.13 868.70 L270.09 885.70 L270.54 890.20 L271.16 894.70 L271.45 896.20 L271.97 897.20 L273.46 899.20 L275.43 901.45 L276.93 902.95 L277.50 903.70 L277.98 904.70 L278.40 905.95 L278.58 906.70 L278.66 908.20 L278.74 908.70 L278.94 909.20 L279.12 909.45 L279.92 910.20 L281.98 911.70 L285.51 913.70 L286.09 914.20 L286.20 914.45 L286.18 914.70 L286.03 914.95 L285.75 915.20 L285.32 915.45 L284.68 915.70 L279.99 916.95 L276.62 917.95 L271.11 919.70 L270.10 920.10 L270.00 920.30 L269.00 920.50 L269.00 920.50 L268.00 920.30 L267.90 920.10 L266.89 919.70 L261.38 917.95 L258.01 916.95 L253.32 915.70 L252.68 915.45 L252.25 915.20 L251.97 914.95 L251.82 914.70 L251.80 914.45 L251.91 914.20 L252.49 913.70 L256.02 911.70 L258.08 910.20 L258.88 909.45 L259.06 909.20 L259.26 908.70 L259.34 908.20 L259.42 906.70 L259.60 905.95 L260.02 904.70 L260.50 903.70 L261.07 902.95 L262.57 901.45 L264.54 899.20 L266.03 897.20 L266.55 896.20 L266.84 894.70 L267.46 890.20 L267.91 885.70 L268.87 868.70 L268.92 866.20 Z" fill="#dfdf20" stroke="#262626" stroke-width="1.20" stroke-linejoin="round"/><line x1="269.00" y1="886.40" x2="269.00" y2="916.90" stroke="#262626" stroke-width="1.20"/><rect x="266.77" y="902.50" width="4.45" height="14.40" fill="#262626"/><rect x="267.05" y="908.85" width="3.90" height="1.70" fill="#ececec"/><path d="M311.88 674.70 L311.89 703.45 L312.00 726.70 L312.23 744.70 L312.67 759.20 L312.85 762.95 L313.21 767.70 L314.80 784.70 L315.82 797.70 L316.55 805.95 L316.96 812.95 L317.50 825.00 L317.55 830.45 L317.45 835.95 L316.45 855.70 L316.19 862.20 L316.21 865.95 L316.45 871.70 L316.69 873.95 L317.08 876.20 L317.77 879.20 L318.40 881.45 L319.26 883.70 L321.35 888.45 L324.58 896.20 L325.76 899.45 L326.98 903.20 L327.73 905.95 L328.26 908.45 L328.59 910.70 L328.70 912.70 L328.67 913.70 L328.55 914.70 L328.29 915.95 L327.94 917.20 L326.53 921.20 L325.37 923.70 L323.97 926.20 L321.36 930.45 L320.16 932.20 L316.88 936.70 L315.26 939.20 L314.31 940.95 L313.08 943.45 L312.96 943.95 L312.91 944.70 L312.80 945.10 L311.80 945.30 L311.80 945.30 L310.80 945.10 L310.69 944.70 L310.64 943.95 L310.52 943.45 L309.29 940.95 L308.34 939.20 L306.72 936.70 L303.44 932.20 L302.24 930.45 L299.63 926.20 L298.23 923.70 L297.07 921.20 L295.66 917.20 L295.31 915.95 L295.05 914.70 L294.93 913.70 L294.90 912.70 L295.01 910.70 L295.34 908.45 L295.87 905.95 L296.62 903.20 L297.84 899.45 L299.02 896.20 L302.25 888.45 L304.34 883.70 L305.20 881.45 L305.83 879.20 L306.52 876.20 L306.91 873.95 L307.15 871.70 L307.39 865.95 L307.41 862.20 L307.15 855.70 L306.15 835.95 L306.05 830.45 L306.10 825.00 L306.64 812.95 L307.05 805.95 L307.78 797.70 L308.80 784.70 L310.39 767.70 L310.75 762.95 L310.93 759.20 L311.37 744.70 L311.60 726.70 L311.71 703.45 L311.72 674.70 Z" fill="#df2020" stroke="#262626" stroke-width="1.20" stroke-linejoin="round"/><line x1="311.80" y1="760.00" x2="311.80" y2="916.80" stroke="#262626" stroke-width="1.20"/><rect x="309.57" y="834.20" width="4.45" height="82.60" fill="#262626"/><rect x="309.85" y="902.75" width="3.90" height="1.70" fill="#ececec"/><rect x="33.50" y="661.30" width="300.00" height="297.70" fill="none" stroke="#404040" stroke-width="1.10"/><line x1="30.90" y1="952.02" x2="33.50" y2="952.02" stroke="#262626" stroke-width="1"/><text transform="translate(28.10 954.22) scale(1 1.130)" font-size="6.00" text-anchor="end">−0.2</text><line x1="30.90" y1="914.90" x2="33.50" y2="914.90" stroke="#262626" stroke-width="1"/><text transform="translate(28.10 917.10) scale(1 1.130)" font-size="6.00" text-anchor="end">0.0</text><line x1="30.90" y1="877.78" x2="33.50" y2="877.78" stroke="#262626" stroke-width="1"/><text transform="translate(28.10 879.98) scale(1 1.130)" font-size="6.00" text-anchor="end">0.2</text><line x1="30.90" y1="840.66" x2="33.50" y2="840.66" stroke="#262626" stroke-width="1"/><text transform="translate(28.10 842.86) scale(1 1.130)" font-size="6.00" text-anchor="end">0.4</text><line x1="30.90" y1="803.54" x2="33.50" y2="803.54" stroke="#262626" stroke-width="1"/><text transform="translate(28.10 805.74) scale(1 1.130)" font-size="6.00" text-anchor="end">0.6</text><line x1="30.90" y1="766.42" x2="33.50" y2="766.42" stroke="#262626" stroke-width="1"/><text transform="translate(28.10 768.62) scale(1 1.130)" font-size="6.00" text-anchor="end">0.8</text><line x1="30.90" y1="729.30" x2="33.50" y2="729.30" stroke="#262626" stroke-width="1"/><text transform="translate(28.10 731.50) scale(1 1.130)" font-size="6.00" text-anchor="end">1.0</text><line x1="30.90" y1="692.18" x2="33.50" y2="692.18" stroke="#262626" stroke-width="1"/><text transform="translate(28.10 694.38) scale(1 1.130)" font-size="6.00" text-anchor="end">1.2</text><line x1="55.00" y1="959.00" x2="55.00" y2="961.40" stroke="#262626" stroke-width="1"/><text transform="translate(55.00 969.30) scale(1 1.130)" font-size="6.10" text-anchor="middle">DesiRNA</text><line x1="97.80" y1="959.00" x2="97.80" y2="961.40" stroke="#262626" stroke-width="1"/><text transform="translate(97.80 969.30) scale(1 1.130)" font-size="6.10" text-anchor="middle">RNAinverse</text><line x1="140.60" y1="959.00" x2="140.60" y2="961.40" stroke="#262626" stroke-width="1"/><text transform="translate(140.60 969.30) scale(1 1.130)" font-size="6.10" text-anchor="middle">DSS-Opt</text><line x1="183.40" y1="959.00" x2="183.40" y2="961.40" stroke="#262626" stroke-width="1"/><text transform="translate(183.40 969.30) scale(1 1.130)" font-size="6.10" text-anchor="middle">INFO-RNA</text><line x1="226.20" y1="959.00" x2="226.20" y2="961.40" stroke="#262626" stroke-width="1"/><text transform="translate(226.20 969.30) scale(1 1.130)" font-size="6.10" text-anchor="middle">RNAfbinv</text><line x1="269.00" y1="959.00" x2="269.00" y2="961.40" stroke="#262626" stroke-width="1"/><text transform="translate(269.00 969.30) scale(1 1.130)" font-size="6.10" text-anchor="middle">MetaLRNA</text><line x1="311.80" y1="959.00" x2="311.80" y2="961.40" stroke="#262626" stroke-width="1"/><text transform="translate(311.80 969.30) scale(1 1.130)" font-size="6.10" text-anchor="middle">RNARedPrint</text><text transform="translate(183.50 979.50) scale(1 1.130)" font-size="7.80" text-anchor="middle">Algorithm</text><text transform="translate(11.00 809.70) scale(1.060 1) rotate(-90)" font-size="7.75" text-anchor="middle">Normalized RNAdistance (less is better)</text><text transform="translate(-0.60 968.60) scale(1 1.07)" font-size="14.20" style="stroke-width:0.3px">E</text></g>
</svg></body></html>
